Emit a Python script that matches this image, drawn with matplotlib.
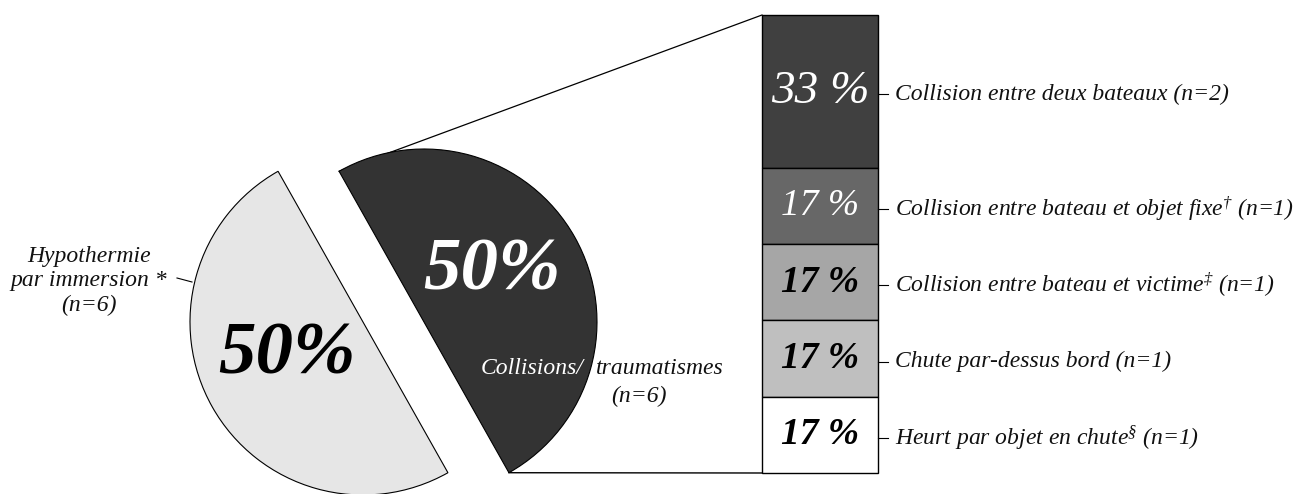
import matplotlib
matplotlib.use("Agg")
import matplotlib.pyplot as plt
import numpy as np

# ---------------- data ----------------
pie_labels = ["Hypothermie\npar immersion *\n(n=6)", "Collisions/ traumatismes\n(n=6)"]
pie_counts = [6, 6]
bar_labels = [
    "Collision entre deux bateaux (n=2)",
    "Collision entre bateau et objet fixe$^{\\dagger}$ (n=1)",
    "Collision entre bateau et victime$^{\\ddagger}$ (n=1)",
    "Chute par-dessus bord (n=1)",
    "Heurt par objet en chute$^{\\S}$ (n=1)",
]
bar_counts = [2, 1, 1, 1, 1]

# ---------------- style ----------------
plt.rcParams['font.family'] = ['Liberation Serif', 'DejaVu Serif']
plt.rcParams['font.style'] = 'italic'
plt.rcParams['mathtext.fontset'] = 'custom'
plt.rcParams['mathtext.rm'] = 'Liberation Serif:italic'
plt.rcParams['mathtext.it'] = 'Liberation Serif:italic'
plt.rcParams['mathtext.fallback'] = 'cm'

W, H = 1299, 494
fig = plt.figure(figsize=(W / 100, H / 100), dpi=100)
ax = fig.add_axes([0, 0, 1, 1])

def py(y):  # pixel-from-top -> data y
    return H - y

pie_colors = ['#e6e6e6', '#333333']
bar_colors = ['#404040', '#676767', '#a6a6a6', '#bfbfbf', '#ffffff']
bar_text_colors = ['white', 'white', 'black', 'black', 'black']

# ---------------- pie ----------------
R = 173
start = 119.4
wedges, _ = ax.pie(pie_counts, colors=pie_colors, startangle=start, radius=R,
                   center=(0, 0), counterclock=True,
                   wedgeprops=dict(edgecolor='black', linewidth=0.8))
centers = [(363, py(322)), (424, py(322))]
for w, c in zip(wedges, centers):
    w.set_center(c)

# percentage texts in pie
tot = sum(pie_counts)
pie_pct = [f"{round(100 * v / tot)}%" for v in pie_counts]
ax.text(287, py(356), pie_pct[0], color='black', fontsize=54, fontweight='bold',
        ha='center', va='center')
ax.text(492, py(271), pie_pct[1], color='white', fontsize=54, fontweight='bold',
        ha='center', va='center')

# pie labels
ax.text(89, py(281), pie_labels[0], fontsize=17, ha='center', va='center',
        linespacing=1.2, color='#111111')
ax.plot([177, 192], [py(278), py(282)], color='black', lw=0.8)
ax.text(584, py(368), "Collisions/", fontsize=17, ha='right', va='center', color='white')
ax.text(596, py(368), "traumatismes", fontsize=17, ha='left', va='center', color='#111111')
ax.text(639, py(396), "(n=6)", fontsize=17, ha='center', va='center', color='#111111')

# ---------------- stacked bar ----------------
bx0, bx1 = 762, 878
btop, bbot = 15, 473
unit = (bbot - btop) / sum(bar_counts)
bottoms = []
acc = 0
for c in reversed(bar_counts):
    bottoms.append(acc)
    acc += c
bottoms = list(reversed(bottoms))
ax.bar([(bx0 + bx1) / 2] * len(bar_counts), [c * unit for c in bar_counts],
       bottom=[py(bbot) + b * unit for b in bottoms], width=bx1 - bx0,
       color=bar_colors, edgecolor='black', linewidth=1.0)

btot = sum(bar_counts)
for i, (lab, c, b) in enumerate(zip(bar_labels, bar_counts, bottoms)):
    yc = py(bbot) + (b + c / 2) * unit
    pct = f"{round(100 * c / btot)} %"
    fs = 34 if c > 1 else 27
    fw = 'bold' if bar_text_colors[i] == 'black' else 'normal'
    ax.text((bx0 + bx1) / 2, yc, pct, color=bar_text_colors[i], fontsize=fs,
            fontweight=fw, ha='center', va='center')
    ax.plot([bx1, bx1 + 10], [yc - 3, yc - 3], color='black', lw=0.8)
    ax.text(bx1 + 17, yc - 3, lab, fontsize=17, ha='left', va='center', color='#111111')

# connector lines from dark wedge chord ends to bar corners
dw = wedges[1]
cx, cy = dw.center
t1, t2 = np.deg2rad(dw.theta1), np.deg2rad(dw.theta2)
p_end = (cx + R * np.cos(t2), cy + R * np.sin(t2))   # top vertex
p_start = (cx + R * np.cos(t1), cy + R * np.sin(t1))  # bottom vertex
ax.plot([p_end[0], bx0], [p_end[1], py(btop)], color='black', lw=0.9, zorder=0.5)
ax.plot([p_start[0], bx0], [p_start[1], py(bbot)], color='black', lw=1.0, zorder=0.5)

ax.set_xlim(0, W)
ax.set_ylim(0, H)
ax.set_aspect('auto')
ax.axis('off')
fig.savefig("out.png", dpi=100)
